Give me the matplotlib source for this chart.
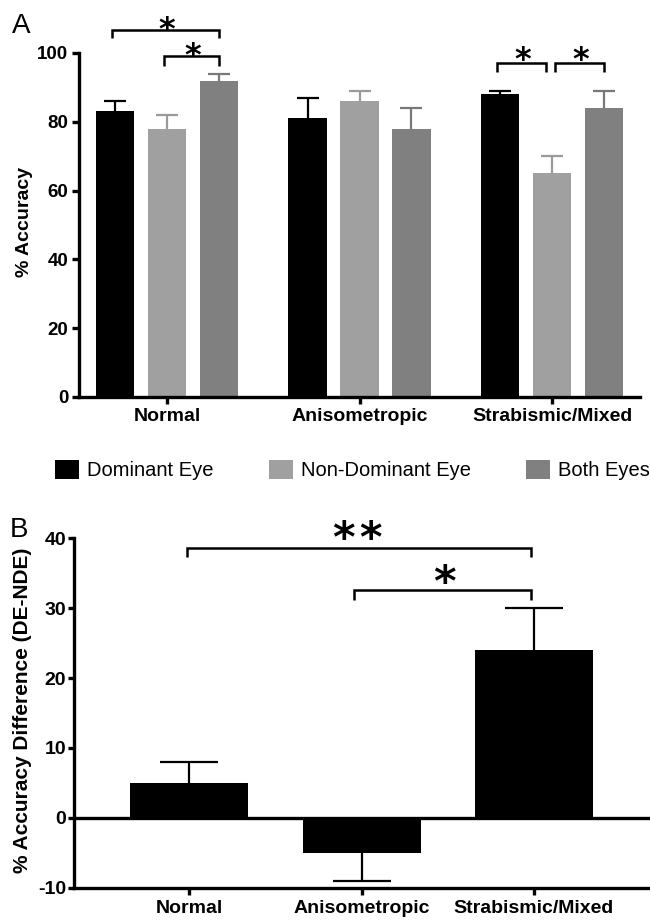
import matplotlib
matplotlib.use("Agg")
import matplotlib.pyplot as plt
import matplotlib.patches as mpatches
import numpy as np

plt.rcParams['font.family'] = ['Liberation Sans', 'DejaVu Sans']
plt.rcParams['axes.unicode_minus'] = False

# ---------------- data ----------------
groups = ["Normal", "Anisometropic", "Strabismic/Mixed"]
series = ["Dominant Eye", "Non-Dominant Eye", "Both Eyes"]
acc_de = [83, 81, 88]
acc_nde = [78, 86, 65]
acc_both = [92, 78, 84]
err_de = [3, 6, 1]
err_nde = [4, 3, 5]
err_both = [2, 6, 5]

diff_vals = [5, -5, 24]
diff_err = [3, 4, 6]

yticks_a = [0, 20, 40, 60, 80, 100]
yticks_b = [-10, 0, 10, 20, 30, 40]

# significance: (group, series_i, series_j, label)
sig_a = [(0, 0, 2, "*"), (0, 1, 2, "*"), (2, 0, 1, "*"), (2, 1, 2, "*")]
sig_b = [(0, 2, "*\u200a*"), (1, 2, "*")]

colors = ["#000000", "#a0a0a0", "#808080"]
err_colors = ["#000000", "#9a9a9a", "#787878"]

fig = plt.figure(figsize=(6.5, 9.21), dpi=100)

SP = 2.4  # spine width
# ---------------- panel A ----------------
axA = fig.add_axes([0.12154, 0.56895, 0.86308, 0.37351])
x = np.arange(len(groups))
pitch = 0.27
width = 0.2
vals = [acc_de, acc_nde, acc_both]
errs = [err_de, err_nde, err_both]
for i in range(3):
    xi = x + (i - 1) * pitch
    axA.bar(xi, vals[i], width=width, color=colors[i], zorder=2)
    eb = axA.errorbar(xi, vals[i], yerr=[np.zeros(3), errs[i]], fmt='none',
                      ecolor=err_colors[i], elinewidth=1.6, capsize=8, capthick=1.6,
                      zorder=1)
    eb[1][0].set_visible(False)
axA.set_xlim(-0.457, 2.457)
axA.set_ylim(0, 100)
axA.set_yticks(yticks_a)
axA.set_xticks(x)
axA.set_xticklabels(groups, fontsize=14, fontweight='bold')
for lab in axA.get_yticklabels():
    lab.set_fontsize(13.5)
    lab.set_fontweight('bold')
axA.set_ylabel("% Accuracy", fontsize=14, fontweight='bold')
axA.yaxis.set_label_coords(-0.082, 0.51)
axA.spines['top'].set_visible(False)
axA.spines['right'].set_visible(False)
axA.spines['left'].set_linewidth(SP)
axA.spines['bottom'].set_linewidth(SP)
axA.tick_params(axis='y', length=5, width=SP, pad=2.8)
axA.tick_params(axis='x', length=5, width=SP, pad=3)

def star(ax, xs, ys, label, fs, weight='bold'):
    ax.annotate(label, xy=(xs, ys), xytext=(0, -0.58 * fs), textcoords='offset points',
                ha='center', va='baseline', fontsize=fs, family='DejaVu Sans',
                fontweight=weight, annotation_clip=False)

def bracket(ax, x1, x2, ytop, ybot, lw=1.8):
    ax.plot([x1, x1, x2, x2], [ybot, ytop, ytop, ybot], color='black', lw=lw,
            clip_on=False, solid_joinstyle='miter', solid_capstyle='butt')

# bracket geometry for panel A (annotation layout)
a_br = {
    0: (106.7, 104.3, 109.5),
    1: (99.0, 96.2, 101.8),
    2: (97.2, 94.5, 100.6),
    3: (97.2, 94.5, 100.6),
}
inset = 0.03
for k, (g, si, sj, lab) in enumerate(sig_a):
    ytop, ybot, ys = a_br[k]
    x1 = g + (si - 1) * pitch
    x2 = g + (sj - 1) * pitch
    if g == 2:
        if si == 1:
            x1 += inset
        if sj == 1:
            x2 -= inset
    bracket(axA, x1 - 0.015, x2, ytop, ybot)
    star(axA, (x1 + x2) / 2, ys, lab, 23)

fig.text(12 / 650, 1 - 33 / 921, "A", fontsize=20, ha='left', va='baseline')

# legend
handles = [mpatches.Patch(facecolor=c, edgecolor='none') for c in colors]
fig.legend(handles, series, loc='center left', bbox_to_anchor=(55 / 650, 1 - 470 / 921),
           ncol=3, frameon=False, fontsize=14.5, handlelength=1.2, handleheight=1.1,
           handletextpad=0.4, columnspacing=2.72, borderpad=0, borderaxespad=0)

# ---------------- panel B ----------------
axB = fig.add_axes([0.11385, 0.03616, 0.88615, 0.37937])
xb = np.arange(len(groups))
axB.bar(xb, diff_vals, width=0.685, color='black', zorder=2)
dv = np.array(diff_vals)
de = np.array(diff_err)
pos = dv >= 0
ebp = axB.errorbar(xb[pos], dv[pos], yerr=[np.zeros(pos.sum()), de[pos]], fmt='none',
                   ecolor='black', elinewidth=1.6, capsize=21, capthick=1.6, zorder=1)
ebp[1][0].set_visible(False)
ebn = axB.errorbar(xb[~pos], dv[~pos], yerr=[de[~pos], np.zeros((~pos).sum())], fmt='none',
                   ecolor='black', elinewidth=1.6, capsize=21, capthick=1.6, zorder=1)
ebn[1][1].set_visible(False)
axB.axhline(0, color='black', lw=SP, zorder=3)
axB.set_xlim(-0.669, 2.674)
axB.set_ylim(-10, 40)
axB.set_yticks(yticks_b)
axB.set_xticks(xb)
axB.set_xticklabels(groups, fontsize=14, fontweight='bold')
for lab in axB.get_yticklabels():
    lab.set_fontsize(14)
    lab.set_fontweight('bold')
axB.set_ylabel("% Accuracy Difference (DE-NDE)", fontsize=15, fontweight='bold')
axB.yaxis.set_label_coords(-0.073, 0.509)
axB.spines['top'].set_visible(False)
axB.spines['right'].set_visible(False)
axB.spines['left'].set_linewidth(SP)
axB.spines['bottom'].set_linewidth(SP)
axB.tick_params(axis='y', length=4.5, width=SP, pad=1)
axB.tick_params(axis='x', length=5, width=SP, pad=3.5)

b_br = {0: (38.6, 37.3, 41.55, 0.979), 1: (32.6, 31.2, 35.3, 1.481)}
b_left_inset = {0: 0.015, 1: 0.045}
for k, (gi, gj, lab) in enumerate(sig_b):
    ytop, ybot, ys, xs = b_br[k]
    bracket(axB, gi - b_left_inset[k], gj - 0.015, ytop, ybot)
    star(axB, xs, ys, lab, 31)

fig.text(10 / 650, 1 - 537 / 921, "B", fontsize=20, ha='left', va='baseline')

fig.savefig("out.png", dpi=100)
